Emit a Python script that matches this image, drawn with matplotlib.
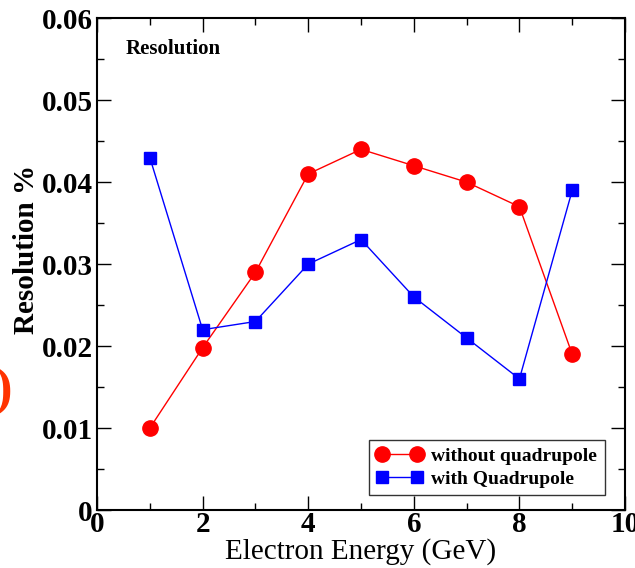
import matplotlib.pyplot as plt
from matplotlib.ticker import MultipleLocator

plt.rcParams['font.family'] = ['Liberation Serif', 'DejaVu Serif']

energy = [1, 2, 3, 4, 5, 6, 7, 8, 9]
res_without = [0.010, 0.0198, 0.029, 0.041, 0.044, 0.042, 0.040, 0.037, 0.019]
res_with = [0.043, 0.022, 0.023, 0.030, 0.033, 0.026, 0.021, 0.016, 0.039]

fig = plt.figure(figsize=(6.35, 5.68), dpi=100)
ax = fig.add_axes([0.1528, 0.102, 0.8315, 0.866])

ax.plot(energy, res_without, color='red', marker='o', markersize=11, lw=1,
        label='without quadrupole')
ax.plot(energy, res_with, color='blue', marker='s', markersize=9, lw=1,
        label='with Quadrupole')

ax.set_xlim(0, 10)
ax.set_ylim(0, 0.06)
ax.xaxis.set_major_locator(MultipleLocator(2))
ax.xaxis.set_minor_locator(MultipleLocator(1))
ax.yaxis.set_minor_locator(MultipleLocator(0.005))
ax.set_yticks([0, 0.01, 0.02, 0.03, 0.04, 0.05, 0.06])
ax.set_yticklabels(['0', '0.01', '0.02', '0.03', '0.04', '0.05', '0.06'])
ax.tick_params(which='both', direction='in', top=True, right=True, width=1)
ax.tick_params(which='major', length=10, labelsize=21, pad=3)
ax.tick_params(axis='x', which='major', pad=1)
ax.tick_params(which='minor', length=5)
for lbl in ax.get_xticklabels() + ax.get_yticklabels():
    lbl.set_fontweight('bold')
for s in ax.spines.values():
    s.set_linewidth(1.5)

ax.set_xlabel('Electron Energy (GeV)', fontsize=21, labelpad=0)
ax.set_ylabel('Resolution %', fontsize=21, fontweight='bold')
ax.yaxis.set_label_coords(-0.108, 0.53)

ax.text(0.055, 0.937, 'Resolution', transform=ax.transAxes, fontsize=15,
        fontweight='bold', va='center')

leg = ax.legend(loc='lower right', bbox_to_anchor=(0.98, 0.01), fontsize=14,
                frameon=True, fancybox=False, edgecolor='black',
                numpoints=2, handlelength=2.4, borderpad=0.4,
                labelspacing=0.25, handletextpad=0.4)
leg.get_frame().set_linewidth(1)
for t in leg.get_texts():
    t.set_fontweight('bold')

fig.text(0.019, 0.31, ')', color='#ff3300', fontsize=38, fontweight='bold',
         va='center', ha='right')

fig.savefig('out.png', dpi=100)
